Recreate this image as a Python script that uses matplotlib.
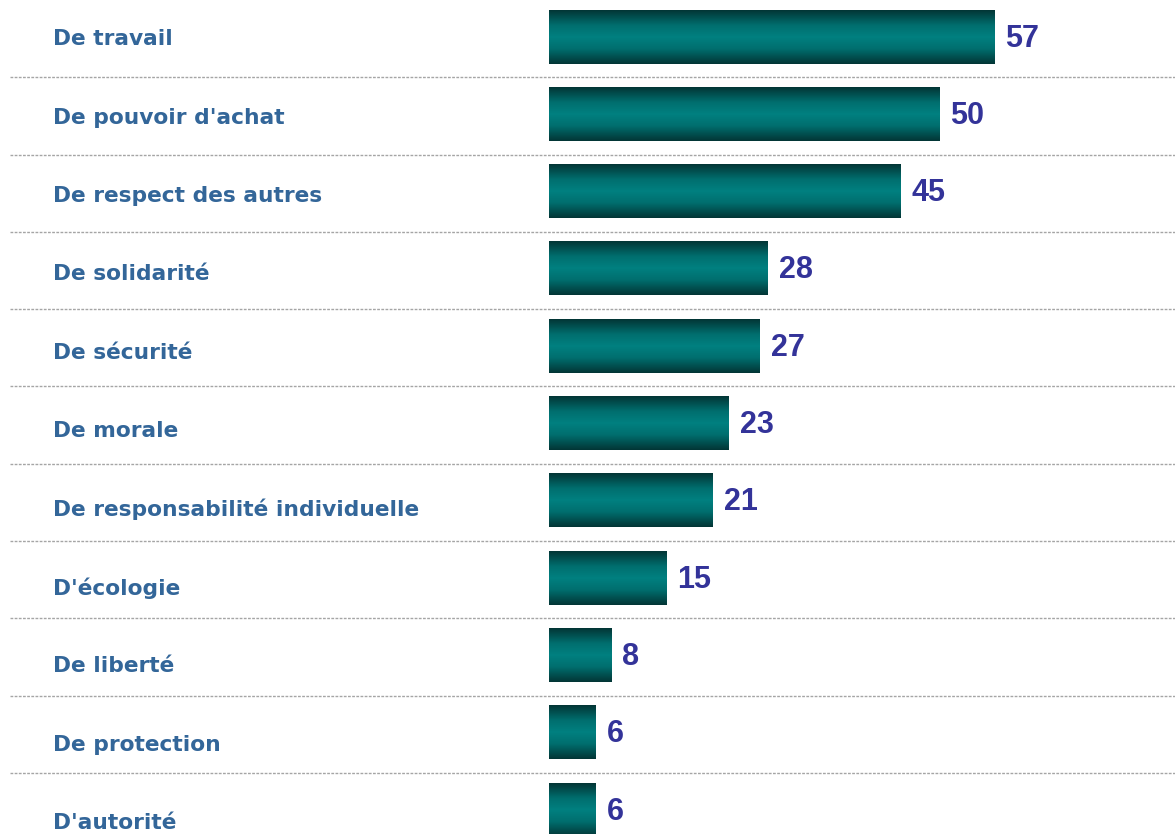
import matplotlib
matplotlib.use("Agg")
import matplotlib.pyplot as plt
import numpy as np
from matplotlib.colors import LinearSegmentedColormap
from matplotlib import font_manager

categories = ["De travail", "De pouvoir d'achat", "De respect des autres",
              "De solidarité", "De sécurité", "De morale",
              "De responsabilité individuelle", "D'écologie", "De liberté",
              "De protection", "D'autorité"]
values = [57, 50, 45, 28, 27, 23, 21, 15, 8, 6, 6]

label_color = "#336699"
value_color = "#333399"

# pick the regular-width Liberation Sans Bold (not the Narrow one)
value_font = font_manager.FontProperties(family="DejaVu Sans", weight="bold")
for f in font_manager.findSystemFonts():
    if f.endswith("LiberationSans-Bold.ttf"):
        value_font = font_manager.FontProperties(fname=f)
        break
value_font.set_size(22)

# dark edge -> teal middle -> dark edge, like the original bar shading
cmap = LinearSegmentedColormap.from_list(
    "bar", [(0, "#033535"), (0.28, "#006e6e"), (0.5, "#008080"),
            (0.72, "#006e6e"), (1, "#033535")])
grad = np.linspace(0, 1, 256).reshape(-1, 1)

fig = plt.figure(figsize=(11.75, 8.34), dpi=100)
ax = fig.add_axes([0, 0, 1, 1])

h = 0.686
for i, (cat, v) in enumerate(zip(categories, values)):
    ax.imshow(grad, cmap=cmap, aspect="auto", interpolation="bilinear",
              extent=(0, v, i + h / 2, i - h / 2), zorder=2)
    ax.text(v + 1.4, i + 0.02, str(v), ha="left", va="center",
            fontproperties=value_font, color=value_color, zorder=3)
    ax.text(0.045, i * 1.014 + 0.03, cat, transform=ax.get_yaxis_transform(),
            ha="left", va="center", fontsize=15.7, fontweight="bold",
            color=label_color, family="DejaVu Sans")

# dashed separators between rows
for i in range(len(categories) - 1):
    ax.plot([-69.0, 81], [i + 0.52, i + 0.52], color="#a5a5a5",
            linestyle=(0, (2, 1)), linewidth=1.0, zorder=1)

ax.set_xlim(-70.32, 80.18)
ax.set_ylim(10.31, -0.479)
ax.axis("off")

fig.savefig("out.png", dpi=100, facecolor="white")
